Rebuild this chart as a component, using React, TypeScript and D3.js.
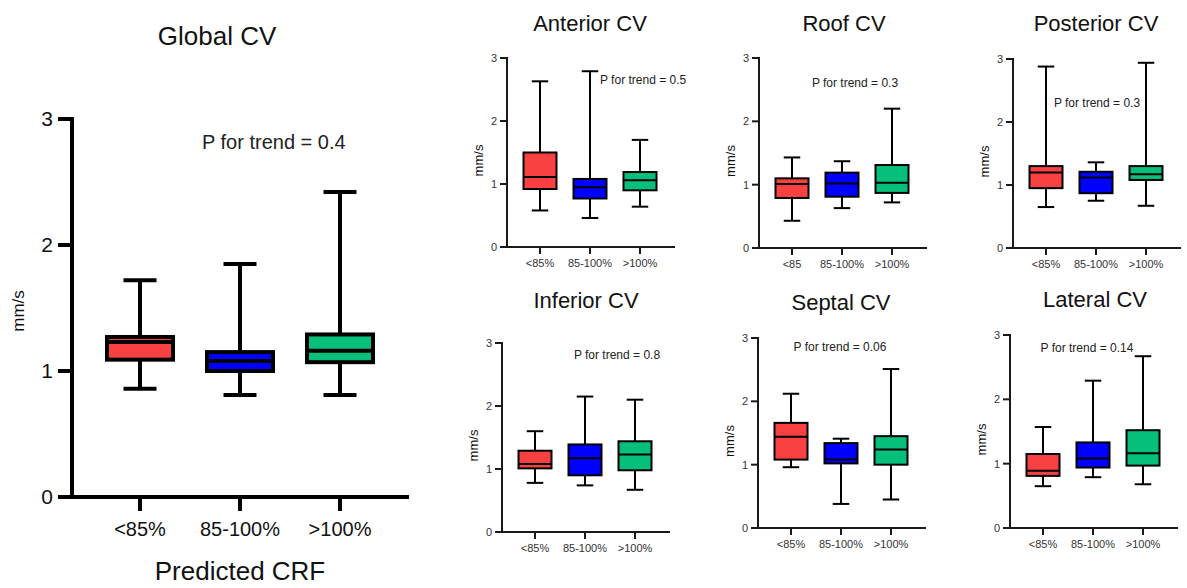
import React from "react";
import * as d3 from "d3";

// groups of predicted CRF
const groups = ["<85%", "85-100%", ">100%"];
const roofGroups = ["<85", "85-100%", ">100%"];
const groupColors = ["#fa4141", "#0000ff", "#05bf7a"];
const yTicks = [0, 1, 2, 3];

// [min, q1, median, q3, max] per group, mm/s
const globalCV = [
  [0.86, 1.09, 1.23, 1.27, 1.72],
  [0.81, 1.0, 1.08, 1.15, 1.85],
  [0.81, 1.07, 1.16, 1.29, 2.42],
];
const anteriorCV = [
  [0.58, 0.92, 1.11, 1.5, 2.63],
  [0.46, 0.77, 0.95, 1.08, 2.79],
  [0.64, 0.9, 1.06, 1.19, 1.7],
];
const roofCV = [
  [0.43, 0.79, 1.01, 1.1, 1.43],
  [0.63, 0.81, 1.02, 1.19, 1.37],
  [0.72, 0.87, 1.03, 1.31, 2.2],
];
const posteriorCV = [
  [0.65, 0.95, 1.2, 1.3, 2.88],
  [0.75, 0.87, 1.12, 1.21, 1.36],
  [0.67, 1.08, 1.17, 1.3, 2.94],
];
const inferiorCV = [
  [0.78, 1.01, 1.08, 1.29, 1.6],
  [0.74, 0.9, 1.17, 1.39, 2.15],
  [0.67, 0.98, 1.23, 1.44, 2.1],
];
const septalCV = [
  [0.96, 1.08, 1.44, 1.66, 2.12],
  [0.38, 1.02, 1.08, 1.34, 1.41],
  [0.45, 1.0, 1.24, 1.45, 2.51],
];
const lateralCV = [
  [0.65, 0.81, 0.89, 1.15, 1.57],
  [0.79, 0.94, 1.08, 1.33, 2.29],
  [0.68, 0.97, 1.16, 1.52, 2.67],
];

const font = "'Liberation Sans', Arial, Helvetica, sans-serif";

interface Layout {
  ax: number; // x of y axis
  y0: number;
  y3: number;
  titleX: number;
  titleY: number;
  pX: number;
  pY: number;
  pAnchor: "start" | "middle";
}

interface Style {
  stroke: number;
  tickLen: number;
  bandStart: number;
  bandWidth: number;
  axisEnd: number;
  titleSize: number;
  pSize: number;
  tickSize: number;
  yTickSize: number;
  yTickGap: number;
  xLabelDy: number;
  yLabelSize: number;
  yLabelDx: number;
  yLabelDy: number;
  axisColor: string;
  labelColor: string;
}

const bigStyle: Style = {
  stroke: 4,
  tickLen: 14,
  bandStart: 18,
  bandWidth: 100,
  axisEnd: 337,
  titleSize: 26,
  pSize: 20,
  tickSize: 20,
  yTickSize: 21,
  yTickGap: 19,
  xLabelDy: 39,
  yLabelSize: 17,
  yLabelDx: -54,
  yLabelDy: 3,
  axisColor: "#000",
  labelColor: "#111",
};

const smallStyle: Style = {
  stroke: 2,
  tickLen: 7,
  bandStart: 8,
  bandWidth: 50,
  axisEnd: 168,
  titleSize: 22,
  pSize: 12,
  tickSize: 11,
  yTickSize: 11,
  yTickGap: 10,
  xLabelDy: 20,
  yLabelSize: 13,
  yLabelDx: -29,
  yLabelDy: 8,
  axisColor: "#1a1a1a",
  labelColor: "#333",
};

interface PanelProps {
  title: string;
  pText: string;
  stats: number[][];
  cats: string[];
  layout: Layout;
  st: Style;
}

const BoxPanel: React.FC<PanelProps> = ({ title, pText, stats, cats, layout, st }) => {
  const { ax, y0, y3 } = layout;
  const y = d3.scaleLinear().domain([0, 3]).range([y0, y3]);
  const x = d3
    .scaleBand<string>()
    .domain(cats)
    .range([ax + st.bandStart, ax + st.bandStart + st.bandWidth * cats.length])
    .paddingInner(0);
  const bw = x.bandwidth() * 0.66;
  const cw = x.bandwidth() * 0.33;

  return (
    <g>
      <text
        x={layout.titleX}
        y={layout.titleY}
        textAnchor="middle"
        fontSize={st.titleSize}
        fill="#111"
      >
        {title}
      </text>
      <text
        x={layout.pX}
        y={layout.pY}
        textAnchor={layout.pAnchor}
        fontSize={st.pSize}
        fill="#222"
      >
        {pText}
      </text>

      {stats.map((s, i) => {
        const cx = (x(cats[i]) as number) + x.bandwidth() / 2;
        const [lo, q1, med, q3, hi] = s;
        return (
          <g key={i} stroke="#000" strokeWidth={st.stroke}>
            <line x1={cx} x2={cx} y1={y(hi)} y2={y(q3)} />
            <line x1={cx} x2={cx} y1={y(q1)} y2={y(lo)} />
            <line x1={cx - cw / 2} x2={cx + cw / 2} y1={y(hi)} y2={y(hi)} />
            <line x1={cx - cw / 2} x2={cx + cw / 2} y1={y(lo)} y2={y(lo)} />
            <rect
              x={cx - bw / 2}
              y={y(q3)}
              width={bw}
              height={y(q1) - y(q3)}
              fill={groupColors[i]}
            />
            <line x1={cx - bw / 2} x2={cx + bw / 2} y1={y(med)} y2={y(med)} />
          </g>
        );
      })}

      {/* y axis */}
      <g stroke={st.axisColor} strokeWidth={st.stroke}>
        <line x1={ax} x2={ax} y1={y(3) - st.stroke / 2} y2={y(0)} />
        <line x1={ax - st.tickLen} x2={ax + st.axisEnd} y1={y(0)} y2={y(0)} />
        {yTicks.slice(1).map((t) => (
          <line key={t} x1={ax - st.tickLen} x2={ax} y1={y(t)} y2={y(t)} />
        ))}
        {cats.map((c) => {
          const cx = (x(c) as number) + x.bandwidth() / 2;
          return <line key={c} x1={cx} x2={cx} y1={y(0)} y2={y(0) + st.tickLen} />;
        })}
      </g>
      {yTicks.map((t) => (
        <text
          key={t}
          x={ax - st.yTickGap}
          y={y(t)}
          dy="0.35em"
          textAnchor="end"
          fontSize={st.yTickSize}
          fill={st.labelColor}
        >
          {t}
        </text>
      ))}
      {cats.map((c) => (
        <text
          key={c}
          x={(x(c) as number) + x.bandwidth() / 2}
          y={y(0) + st.xLabelDy}
          textAnchor="middle"
          fontSize={st.tickSize}
          fill={st.labelColor}
        >
          {c}
        </text>
      ))}
      <text
        transform={`translate(${ax + st.yLabelDx},${(y0 + y3) / 2 + st.yLabelDy}) rotate(-90)`}
        dy="0.35em"
        textAnchor="middle"
        fontSize={st.yLabelSize}
        fill="#111"
      >
        mm/s
      </text>
    </g>
  );
};

export default function App() {
  return (
    <svg
      width={1187}
      height={588}
      style={{ position: "absolute", left: 0, top: 0, background: "#fff" }}
      fontFamily={font}
    >
      <BoxPanel
        title="Global CV"
        pText="P for trend = 0.4"
        stats={globalCV}
        cats={groups}
        st={bigStyle}
        layout={{ ax: 72, y0: 497, y3: 119, titleX: 217, titleY: 45, pX: 202, pY: 149, pAnchor: "start" }}
      />
      <text x={240} y={580} textAnchor="middle" fontSize={26} fill="#111">
        Predicted CRF
      </text>

      <BoxPanel
        title="Anterior CV"
        pText="P for trend = 0.5"
        stats={anteriorCV}
        cats={groups}
        st={smallStyle}
        layout={{ ax: 507, y0: 247, y3: 58, titleX: 590, titleY: 31, pX: 600, pY: 84, pAnchor: "start" }}
      />
      <BoxPanel
        title="Roof CV"
        pText="P for trend = 0.3"
        stats={roofCV}
        cats={roofGroups}
        st={smallStyle}
        layout={{ ax: 759, y0: 248, y3: 58, titleX: 844, titleY: 31, pX: 855, pY: 87, pAnchor: "middle" }}
      />
      <BoxPanel
        title="Posterior CV"
        pText="P for trend = 0.3"
        stats={posteriorCV}
        cats={groups}
        st={smallStyle}
        layout={{ ax: 1013, y0: 248, y3: 59, titleX: 1096, titleY: 31, pX: 1097, pY: 107, pAnchor: "middle" }}
      />
      <BoxPanel
        title="Inferior CV"
        pText="P for trend = 0.8"
        stats={inferiorCV}
        cats={groups}
        st={smallStyle}
        layout={{ ax: 502, y0: 532, y3: 343, titleX: 586, titleY: 308, pX: 617, pY: 359, pAnchor: "middle" }}
      />
      <BoxPanel
        title="Septal CV"
        pText="P for trend = 0.06"
        stats={septalCV}
        cats={groups}
        st={smallStyle}
        layout={{ ax: 758, y0: 528, y3: 338, titleX: 841, titleY: 310, pX: 840, pY: 351, pAnchor: "middle" }}
      />
      <BoxPanel
        title="Lateral CV"
        pText="P for trend = 0.14"
        stats={lateralCV}
        cats={groups}
        st={smallStyle}
        layout={{ ax: 1010, y0: 528, y3: 335, titleX: 1095, titleY: 307, pX: 1087, pY: 352, pAnchor: "middle" }}
      />
    </svg>
  );
}
